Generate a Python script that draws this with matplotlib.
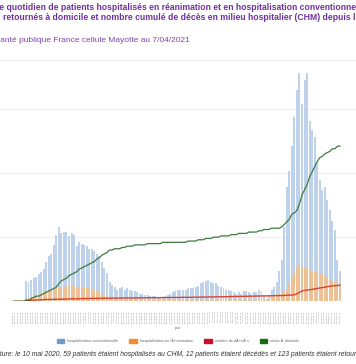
import matplotlib
matplotlib.use('Agg')
import matplotlib.pyplot as plt
import pandas as pd
from matplotlib.patches import Patch

plt.rcParams['font.family'] = ['Liberation Sans', 'DejaVu Sans']

# ---------------- data (one point every 3 days) ----------------
dates = [d.strftime('%d/%m/%Y') for d in pd.date_range('2020-03-13', periods=130, freq='3D')]

hosp_conv = [0, 0, 0, 0, 0, 16, 15, 17, 18, 19,
             21, 23, 25, 31, 35, 37, 44, 52, 58, 53,
             54, 54, 51, 53, 52, 43, 46, 45, 44, 43,
             41, 41, 39, 37, 35, 31, 26, 22, 15, 13,
             11, 9, 10, 11, 9, 10, 9, 8, 8, 7,
             6, 6, 5, 5, 4, 4, 4, 3, 3, 3,
             4, 5, 6, 7, 8, 9, 9, 9, 9, 10,
             10, 10, 11, 12, 14, 15, 16, 17, 15, 14,
             14, 12, 11, 10, 9, 9, 8, 7, 6, 7,
             6, 8, 8, 7, 6, 7, 7, 9, 8, 5,
             2, 5, 9, 11, 15, 24, 32, 58, 89, 102,
             121, 144, 165, 178, 154, 173, 178, 141, 134, 128,
             108, 95, 87, 89, 79, 71, 63, 56, 32, 24]

hosp_rea = [0, 0, 0, 0, 0, 2, 3, 3, 4, 4,
            5, 6, 7, 8, 8, 9, 9, 10, 10, 11,
            11, 12, 12, 12, 12, 11, 11, 11, 11, 10,
            10, 9, 9, 8, 7, 6, 5, 4, 3, 3,
            2, 2, 2, 2, 2, 2, 2, 2, 2, 2,
            2, 1, 1, 1, 1, 1, 1, 1, 1, 1,
            1, 1, 1, 1, 1, 1, 1, 1, 1, 1,
            1, 2, 2, 2, 2, 2, 2, 2, 2, 2,
            2, 2, 2, 2, 2, 2, 2, 2, 2, 2,
            2, 2, 2, 2, 2, 2, 2, 2, 2, 2,
            2, 2, 3, 5, 6, 6, 7, 8, 9, 14,
            19, 24, 27, 28, 28, 27, 26, 25, 24, 23,
            23, 22, 22, 20, 18, 17, 16, 15, 15, 14]

deces = [0, 0, 0, 0, 0, 0.5, 0.7, 0.8, 0.9, 1.0,
         1.1, 1.2, 1.3, 1.4, 1.4, 1.5, 1.5, 1.6, 1.6, 1.7,
         1.7, 1.8, 1.8, 1.9, 1.9, 2.0, 2.0, 2.1, 2.1, 2.2,
         2.2, 2.2, 2.3, 2.3, 2.3, 2.4, 2.4, 2.4, 2.4, 2.5,
         2.5, 2.5, 2.5, 2.6, 2.6, 2.6, 2.6, 2.6, 2.6, 2.7,
         2.7, 2.7, 2.7, 2.8, 2.8, 2.8, 2.8, 2.8, 2.9, 2.9,
         2.9, 2.9, 3.0, 3.0, 3.0, 3.0, 3.0, 3.1, 3.1, 3.1,
         3.1, 3.2, 3.2, 3.2, 3.3, 3.3, 3.3, 3.4, 3.4, 3.4,
         3.5, 3.5, 3.5, 3.6, 3.6, 3.6, 3.7, 3.7, 3.8, 3.8,
         3.8, 3.9, 3.9, 4.0, 4.0, 4.0, 4.1, 4.1, 4.2, 4.2,
         4.2, 4.3, 4.3, 4.4, 4.4, 4.5, 4.5, 4.6, 4.7, 4.8,
         4.9, 5.1, 5.8, 7.0, 8.0, 8.5, 8.8, 9.0, 9.3, 9.6,
         10.0, 10.4, 10.7, 11.0, 11.4, 11.7, 12.0, 12.2, 12.4, 12.5]

retour = [0, 0, 0, 0, 0, 1, 1, 2, 3, 4,
          4, 5, 6, 7, 8, 9, 10, 11, 14, 16,
          17, 18, 20, 21, 22, 23, 25, 26, 27, 28,
          29, 30, 31, 33, 34, 36, 37, 38, 40, 40,
          41, 41, 41, 42, 42, 43, 43, 43, 44, 44,
          44, 44, 44, 45, 45, 45, 45, 45, 45, 46,
          46, 46, 46, 46, 46, 46, 46, 46, 46, 47,
          47, 47, 47, 48, 48, 48, 49, 49, 49, 50,
          50, 50, 51, 51, 51, 51, 52, 52, 52, 53,
          53, 53, 53, 54, 54, 54, 54, 55, 55, 56,
          56, 56, 57, 57, 57, 57, 58, 60, 62, 64,
          68, 69, 71, 76, 83, 87, 91, 97, 101, 105,
          109, 112, 113, 115, 116, 117, 119, 119, 121, 121]

legend_labels = ['hospitalisation conventionnelle', 'hospitalisation en rÃ©animation',
                 'nombre de dÃ©cÃ¨s', 'retour Ã\xa0 domicile']

title_1 = ("Nombre quotidien de patients hospitalisés en réanimation et en hospitalisation "
           "conventionnelle, nombre cumulé de patients")
title_2 = ("retournés à domicile et nombre cumulé de décès en milieu hospitalier (CHM) "
           "depuis le 13 mars 2020")
subtitle = "Source : Santé publique France cellule Mayotte au 7/04/2021"
caption = ("Lecture: le 10 mai 2020, 59 patients étaient hospitalisés au CHM, 12 patients "
           "étaient décédés et 123 patients étaient retournés à domicile.")

# ---------------- layout ----------------
W, H = 356, 364
fig = plt.figure(figsize=(W / 100, H / 100), dpi=100)
fig.patch.set_facecolor('white')


def fx(px):
    return px / W


def fy(py):
    return 1 - py / H


n = len(dates)
x0_px, x1_px = 13.3, 340.0
ppu = (x1_px - x0_px) / (n - 1)
base_px, top_px = 301.3, 60.0
grid_px = 64.1
ymax = (base_px - top_px) / grid_px * 50

ax = fig.add_axes([0, fy(base_px), 1, (base_px - top_px) / H])
ax.set_xlim(-x0_px / ppu, (W - x0_px) / ppu)
ax.set_ylim(0, ymax)

xs = list(range(n))
ax.bar(xs, hosp_conv, width=0.78, color='#aec7e8', alpha=0.8, linewidth=0, zorder=2)
ax.bar(xs, hosp_rea, width=0.78, color='#ffbb78', alpha=0.75, linewidth=0, zorder=3)
ax.plot(xs, deces, color='#d4452f', lw=1.0, zorder=4)
ax.plot(xs, retour, color='#3d7a3d', lw=0.9, zorder=5)

ax.set_yticks([0, 50, 100, 150])
ax.set_yticklabels([])
ax.grid(axis='y', color='#efefef', lw=0.8, zorder=0)
ax.tick_params(axis='y', length=0)
for s in ['left', 'right', 'bottom']:
    ax.spines[s].set_visible(False)
ax.spines['top'].set_color('#eeeeee')
ax.spines['top'].set_linewidth(0.8)

ax.set_xticks(xs)
ax.set_xticklabels(dates, rotation=90, fontsize=1.75, color='#8a8a8a')
ax.tick_params(axis='x', length=0, pad=6.5)

fig.text(fx(177), fy(328), 'jour', fontsize=2.8, color='#777777', ha='center', va='center')

# legend
handles = [Patch(color='#6f9bd1'), Patch(color='#f58a2c'), Patch(color='#c8102e'), Patch(color='#1a6b1a')]
leg = fig.legend(handles, legend_labels, loc='center', bbox_to_anchor=(fx(178), fy(341)), ncol=4,
                 fontsize=2.7, frameon=False, handlelength=2.0, handleheight=1.1,
                 handletextpad=0.8, columnspacing=3.0, labelcolor='#666666')

# title / subtitle / caption, cropped at the figure edges
fig.canvas.draw()
r = fig.canvas.get_renderer()


def place_cut(text, prefix, x_px, y_px, **kw):
    tmp = fig.text(0, 0, prefix, **kw)
    w = tmp.get_window_extent(renderer=r).width
    tmp.remove()
    fig.text(fx(x_px - w), fy(y_px), text, va='center', ha='left', **kw)


tcol = '#7030a0'
place_cut(title_1, 'Nombr', -0.5, 7, fontsize=6.2, fontweight='bold', color=tcol)
place_cut(title_2, '', 3, 17.5, fontsize=6.2, fontweight='bold', color=tcol)
place_cut(subtitle, 'Source : S', 0, 40.5, fontsize=6.0, color='#7d46a8')
place_cut(caption, 'Lec', 0, 355, fontsize=4.9, style='italic', color='#333333')

fig.savefig('out.png', dpi=100, facecolor='white')
